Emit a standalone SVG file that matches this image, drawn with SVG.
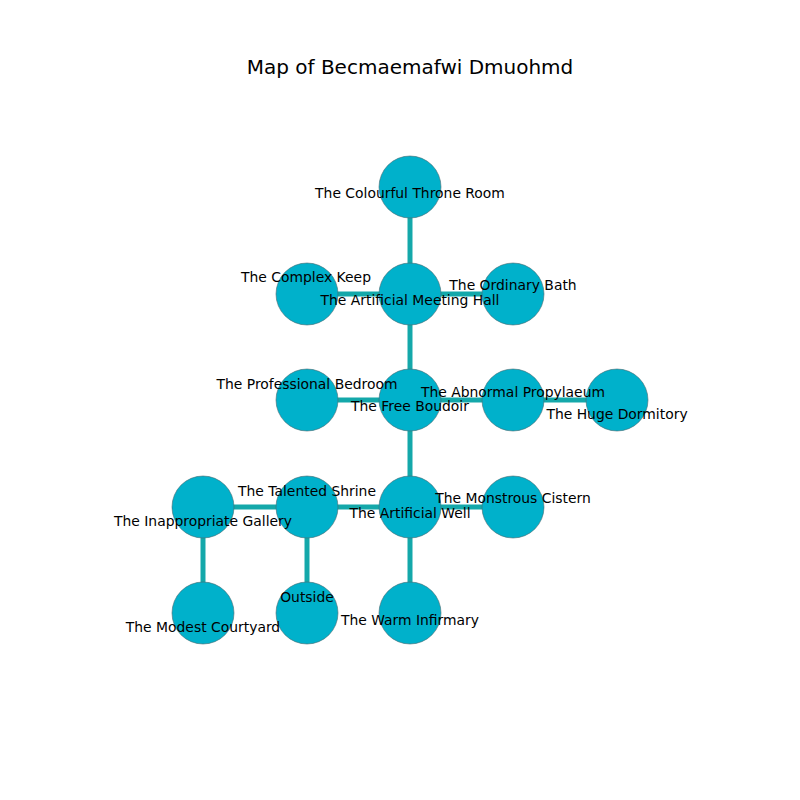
<svg xmlns="http://www.w3.org/2000/svg" width="800" height="800" viewBox="0 0 800 800">
<style>
.edge{stroke:#14a8aa;stroke-width:5;fill:none}
.node circle{fill:#00b1cb;stroke:#4a6a70;stroke-width:0.6}
.node text{font-family:"DejaVu Sans",sans-serif;font-size:13.9px;fill:#000;text-anchor:middle;dominant-baseline:central}
.title{font-family:"DejaVu Sans",sans-serif;font-size:20px;fill:#000;text-anchor:middle;dominant-baseline:central}
</style>
<rect width="800" height="800" fill="#fff"/>
<text class="title" x="410" y="67">Map of Becmaemafwi Dmuohmd</text>
<g id="connectors">
<line class="edge" x1="410" y1="187" x2="410" y2="294"/>
<line class="edge" x1="307" y1="294" x2="513" y2="294"/>
<line class="edge" x1="410" y1="294" x2="410" y2="400"/>
<line class="edge" x1="307" y1="400" x2="617" y2="400"/>
<line class="edge" x1="410" y1="400" x2="410" y2="613"/>
<line class="edge" x1="203" y1="507" x2="513" y2="507"/>
<line class="edge" x1="203" y1="507" x2="203" y2="613"/>
<line class="edge" x1="307" y1="507" x2="307" y2="613"/>
</g>
<g id="n_throne" class="node"><circle cx="410" cy="187" r="31"/><text x="410" y="193">The Colourful Throne Room</text></g>
<g id="n_meeting" class="node"><circle cx="410" cy="294" r="31"/></g>
<g id="n_keep" class="node"><circle cx="307" cy="294" r="31"/></g>
<g id="n_bath" class="node"><circle cx="513" cy="294" r="31"/></g>
<g id="n_boudoir" class="node"><circle cx="410" cy="400" r="31"/></g>
<g id="n_bedroom" class="node"><circle cx="307" cy="400" r="31"/></g>
<g id="n_propylaeum" class="node"><circle cx="513" cy="400" r="31"/></g>
<g id="n_dormitory" class="node"><circle cx="617" cy="400" r="31"/></g>
<g id="n_well" class="node"><circle cx="410" cy="507" r="31"/></g>
<g id="n_shrine" class="node"><circle cx="307" cy="507" r="31"/></g>
<g id="n_gallery" class="node"><circle cx="203" cy="507" r="31"/></g>
<g id="n_cistern" class="node"><circle cx="513" cy="507" r="31"/></g>
<g id="n_courtyard" class="node"><circle cx="203" cy="613" r="31"/></g>
<g id="n_outside" class="node"><circle cx="307" cy="613" r="31"/></g>
<g id="n_infirmary" class="node"><circle cx="410" cy="613" r="31"/></g>
<g id="labels" class="node">
<text x="306" y="277">The Complex Keep</text>
<text x="410" y="300">The Artificial Meeting Hall</text>
<text x="513" y="285">The Ordinary Bath</text>
<text x="307" y="384">The Professional Bedroom</text>
<text x="410" y="406">The Free Boudoir</text>
<text x="513" y="392">The Abnormal Propylaeum</text>
<text x="617" y="414">The Huge Dormitory</text>
<text x="307" y="491">The Talented Shrine</text>
<text x="410" y="513">The Artificial Well</text>
<text x="513" y="498">The Monstrous Cistern</text>
<text x="203" y="521">The Inappropriate Gallery</text>
<text x="203" y="627">The Modest Courtyard</text>
<text x="307" y="597">Outside</text>
<text x="410" y="620">The Warm Infirmary</text>
</g>
</svg>
